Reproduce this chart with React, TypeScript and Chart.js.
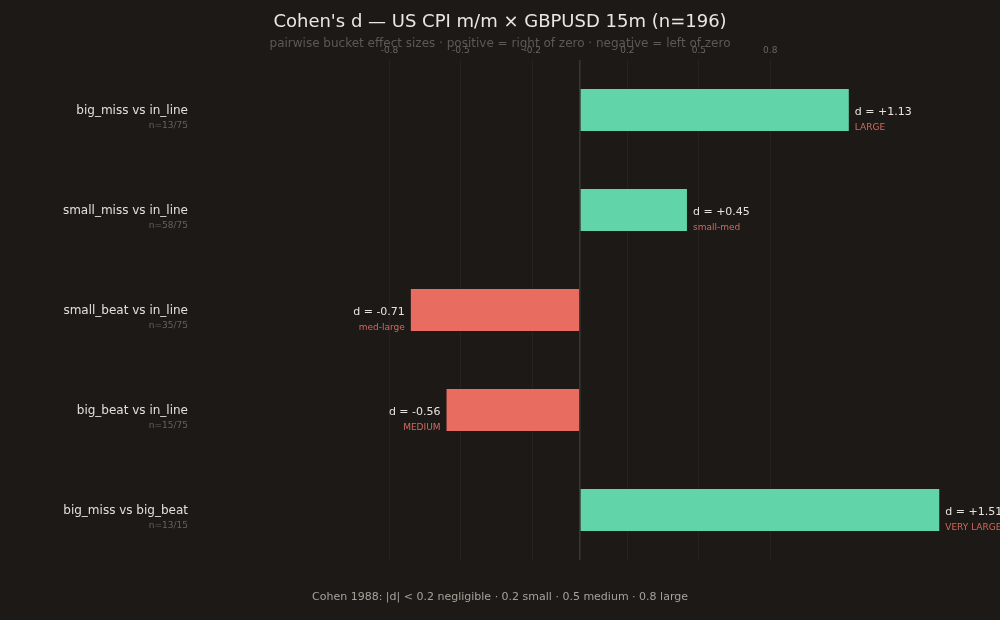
import { useEffect, useRef } from "react";
import { Chart, registerables } from "chart.js";
Chart.register(...registerables);

const pairs = [
  "big_miss vs in_line",
  "small_miss vs in_line",
  "small_beat vs in_line",
  "big_beat vs in_line",
  "big_miss vs big_beat",
];
const counts = ["n=13/75", "n=58/75", "n=35/75", "n=15/75", "n=13/15"];
const dValues = [1.13, 0.45, -0.71, -0.56, 1.51];
const magnitudes = ["LARGE", "small-med", "med-large", "MEDIUM", "VERY LARGE"];
const tickValues = [-0.8, -0.5, -0.2, 0, 0.2, 0.5, 0.8];

const BG = "#1c1917";
const GREEN = "#62d4a9";
const RED = "#e86d60";
const FONT = "'DejaVu Sans', sans-serif";

const textPlugin = {
  id: "textLayer",
  afterDatasetsDraw(chart: any) {
    const { ctx, scales } = chart;
    const x = scales.x;
    const y = scales.y;
    ctx.save();

    // title + subtitle
    ctx.textAlign = "center";
    ctx.textBaseline = "middle";
    ctx.fillStyle = "#ebe6df";
    ctx.font = `18px ${FONT}`;
    ctx.fillText("Cohen's d — US CPI m/m × GBPUSD 15m (n=196)", 500, 22);
    ctx.fillStyle = "#5f5955";
    ctx.font = `12px ${FONT}`;
    ctx.fillText("pairwise bucket effect sizes · positive = right of zero · negative = left of zero", 500, 44);

    // tick labels on top
    ctx.fillStyle = "#6b6560";
    ctx.font = `9px ${FONT}`;
    tickValues.forEach((v) => {
      if (v === 0) return;
      ctx.fillText(v.toFixed(1), x.getPixelForValue(v), 51);
    });

    // row labels
    pairs.forEach((p, i) => {
      const cy = y.getPixelForValue(i);
      ctx.textAlign = "right";
      ctx.fillStyle = "#e4dfd8";
      ctx.font = `12px ${FONT}`;
      ctx.fillText(p, 188, cy + 1);
      ctx.fillStyle = "#67615c";
      ctx.font = `9px ${FONT}`;
      ctx.fillText(counts[i], 188, cy + 16);
    });

    // value + magnitude labels
    dValues.forEach((d, i) => {
      const cy = y.getPixelForValue(i);
      const end = x.getPixelForValue(d);
      const pos = d >= 0;
      const tx = pos ? end + 6 : end - 6;
      ctx.textAlign = pos ? "left" : "right";
      ctx.fillStyle = "#e8e3dc";
      ctx.font = `11px ${FONT}`;
      ctx.fillText(`d = ${pos ? "+" : ""}${d.toFixed(2)}`, tx, cy + 2);
      ctx.fillStyle = "#d06a5c";
      ctx.font = `9px ${FONT}`;
      ctx.fillText(magnitudes[i], tx, cy + 18);
    });

    // footer
    ctx.textAlign = "center";
    ctx.fillStyle = "#a8a19a";
    ctx.font = `11px ${FONT}`;
    ctx.fillText("Cohen 1988: |d| < 0.2 negligible · 0.2 small · 0.5 medium · 0.8 large", 500, 597);
    ctx.restore();
  },
};

export default function App() {
  const ref = useRef<HTMLCanvasElement | null>(null);

  useEffect(() => {
    document.body.style.margin = "0";
    document.body.style.background = BG;
    if (!ref.current) return;
    const ctx = ref.current.getContext("2d");
    if (!ctx) return;

    const chart = new Chart(ctx, {
      type: "bar",
      data: {
        labels: pairs,
        datasets: [
          {
            data: dValues,
            backgroundColor: dValues.map((d) => (d >= 0 ? GREEN : RED)),
            barPercentage: 0.42,
            categoryPercentage: 1,
          },
        ],
      },
      options: {
        indexAxis: "y",
        animation: false,
        responsive: false,
        maintainAspectRatio: false,
        layout: { padding: { left: 199, right: 6, top: 60, bottom: 60 } },
        plugins: { legend: { display: false }, tooltip: { enabled: false }, title: { display: false } },
        scales: {
          x: {
            min: -1.6,
            max: 1.74,
            afterBuildTicks: (axis: any) => {
              axis.ticks = tickValues.map((v) => ({ value: v }));
            },
            ticks: { display: false },
            border: { display: false },
            grid: {
              drawTicks: false,
              color: (c: any) => (c.tick && c.tick.value === 0 ? "#3a3532" : "#2a2522"),
              lineWidth: (c: any) => (c.tick && c.tick.value === 0 ? 1.6 : 0.8),
            },
          },
          y: { display: false },
        },
      },
      plugins: [textPlugin],
    });

    return () => chart.destroy();
  }, []);

  return (
    <div style={{ width: 1000, height: 620, background: BG }}>
      <canvas ref={ref} width={1000} height={620} style={{ width: 1000, height: 620, display: "block" }} />
    </div>
  );
}
